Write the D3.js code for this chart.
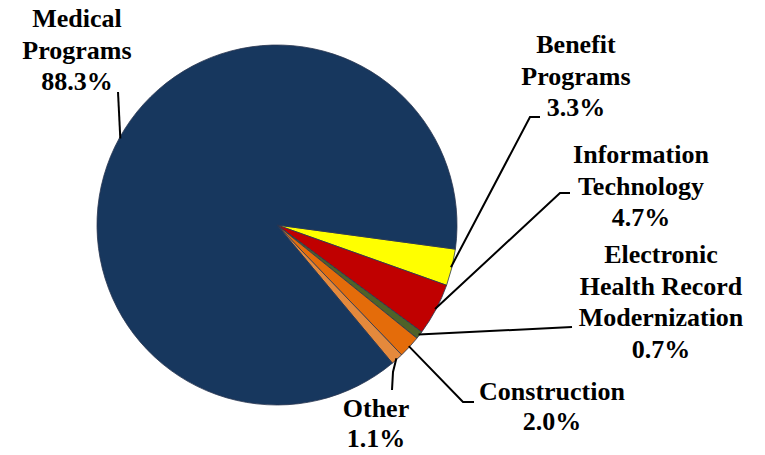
<!DOCTYPE html>
<html>
<head>
<meta charset="utf-8">
<script src="https://cdn.jsdelivr.net/npm/d3@7/dist/d3.min.js"></script>
<style>
  html, body { margin: 0; padding: 0; background: #ffffff; }
  svg { display: block; }
  text { font-family: "Liberation Serif", "Times New Roman", serif; font-weight: bold; fill: #000; }
</style>
</head>
<body>
<svg id="chart" width="765" height="455"></svg>
<script>
// ---- data ----
const categories = ["Benefit Programs", "Information Technology", "Electronic Health Record Modernization", "Construction", "Other", "Medical Programs"];
const values = [3.3, 4.7, 0.7, 2.0, 1.1, 88.3];
const valueLabels = ["3.3%", "4.7%", "0.7%", "2.0%", "1.1%", "88.3%"];
const labelLines = [["Benefit", "Programs"], ["Information", "Technology"], ["Electronic", "Health Record", "Modernization"], ["Construction"], ["Other"], ["Medical", "Programs"]];
const colors = ["#FFFF00", "#C00000", "#4F6228", "#E46C0A", "#E4893C", "#17375E"];

// ---- layout (label placement & leader waypoints) ----
const labelLayout = [
  { cx: 576, y0: 53,  lh: 31.5, via: [[530, 117], [540, 117]] },
  { cx: 641, y0: 163, lh: 31.5, via: [[560, 193], [570, 193]] },
  { cx: 661, y0: 263, lh: 31.5, via: [[572, 327]] },
  { cx: 552, y0: 400, lh: 30,   via: [[463, 402], [474, 402]] },
  { cx: 376, y0: 417, lh: 29.5, via: [[393, 372], [392, 390]] },
  { cx: 77,  y0: 27,  lh: 31.5, via: [[118, 92]] }
];

const svg = d3.select("#chart");
const cx = 277, cy = 225, r = 180;
const startDeg = 97.7;

const pie = d3.pie().sort(null).value(d => d)
  .startAngle(startDeg * Math.PI / 180)
  .endAngle(startDeg * Math.PI / 180 + 2 * Math.PI);
const arcs = pie(values);
const arc = d3.arc().innerRadius(0).outerRadius(r);

const g = svg.append("g").attr("transform", `translate(${cx},${cy})`);
g.selectAll("path.slice").data(arcs).enter().append("path")
  .attr("class", "slice")
  .attr("d", arc)
  .attr("fill", (d, i) => colors[i])
  .attr("stroke", "#2a3650")
  .attr("stroke-width", 0.8)
  .attr("stroke-linejoin", "round");

// leader lines
arcs.forEach((a, i) => {
  const mid = (a.startAngle + a.endAngle) / 2;
  const rr = r - 1;
  const p0 = [cx + rr * Math.sin(mid), cy - rr * Math.cos(mid)];
  const pts = [p0].concat(labelLayout[i].via);
  svg.append("path")
    .attr("d", d3.line()(pts))
    .attr("fill", "none")
    .attr("stroke", "#000")
    .attr("stroke-width", 2);
});

// labels
categories.forEach((c, i) => {
  const L = labelLayout[i];
  const lines = labelLines[i].concat([valueLabels[i]]);
  const t = svg.append("text")
    .attr("text-anchor", "middle")
    .attr("font-size", 26);
  lines.forEach((ln, k) => {
    t.append("tspan").attr("x", L.cx).attr("y", L.y0 + k * L.lh).text(ln);
  });
});
</script>
</body>
</html>
